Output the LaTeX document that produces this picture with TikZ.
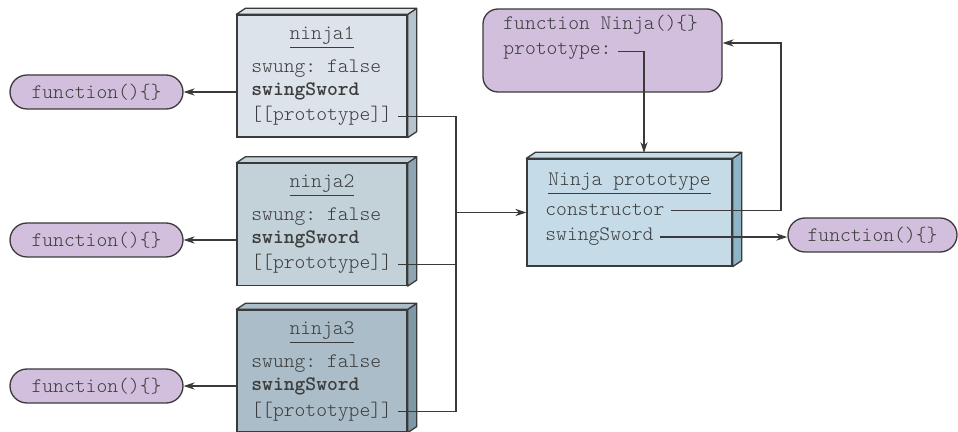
\documentclass[tikz,border=0pt]{standalone}
\usepackage{fontspec}
\setmonofont{lmmonolt10-regular.otf}[BoldFont=lmmonolt10-bold.otf]
\usepackage{tikz}
\usetikzlibrary{calc, positioning, arrows.meta}
\usepackage{xcolor}
\definecolor{edge}{HTML}{3A3A3A}
\definecolor{ink}{HTML}{3C3C3C}
\definecolor{objA}{HTML}{DCE3EA}
\definecolor{objAside}{HTML}{B5C4CF}
\definecolor{objB}{HTML}{C3D1D9}
\definecolor{objBside}{HTML}{8FA6B2}
\definecolor{objC}{HTML}{AABDC8}
\definecolor{objCside}{HTML}{7F98A6}
\definecolor{protoA}{HTML}{C5DCE8}
\definecolor{protoAside}{HTML}{8CB5C8}
\definecolor{fnfill}{HTML}{D2BFDD}
\newcommand\rowfont{\ttfamily\fontsize{10.3}{12}\selectfont}

\begin{document}
\begin{tikzpicture}[x=0.5pt, y=-0.5pt,
  obj/.style={draw=edge, line width=0.65pt, minimum width=85pt,
              minimum height=61pt, inner sep=0pt},
  face/.style={draw=edge, line width=0.65pt, line join=round},
  row/.style={anchor=base west, inner sep=3pt, font=\rowfont, text=ink},
  title/.style={anchor=base, inner sep=3pt, font=\rowfont, text=ink},
  fn/.style={draw=edge, line width=0.65pt, fill=fnfill, rounded corners=8.5pt,
             minimum width=86.5pt, minimum height=17pt, font=\rowfont, text=ink},
  link/.style={draw=edge, line width=0.65pt},
  >={Stealth[length=5.5pt, width=3.6pt]}
]
  \useasboundingbox (0,0) rectangle (958,432);

  % the three ninja objects
  \node[obj, fill=objA] (n1) at (322,76) {};
  \node[obj, fill=objB] (n2) at (322,224.5) {};
  \node[obj, fill=objC] (n3) at (322,371) {};
  % the shared prototype and the constructor
  \node[obj, fill=protoA, minimum width=102.5pt, minimum height=53.5pt] (proto) at (629.5,212.5) {};
  \node[fn, minimum width=119.5pt, minimum height=41.5pt, rounded corners=7.5pt] (ctorfn) at (602.5,50.5) {};

  \foreach \b/\f/\s in {n1/objA/objAside, n2/objB/objBside, n3/objC/objCside, proto/protoA/protoAside} {
    \filldraw[face, fill=\s] (\b.north east) -- ++(9,-6) -- ($(\b.south east)+(9,-6)$) -- (\b.south east) -- cycle;
    \filldraw[face, fill=\f] (\b.north west) -- ++(9,-6) -- ($(\b.north east)+(9,-6)$) -- (\b.north east) -- cycle;
  }

  \node[title] (n1t) at (322,40) {\underline{ninja1}};
  \node[row] (n1s) at (245,73) {swung: false};
  \node[row] (n1w) at (245,96) {\textbf{swingSword}};
  \node[row] (n1p) at (245,121) {[[prototype]]};

  \node[title] (n2t) at (322,188) {\underline{ninja2}};
  \node[row] (n2s) at (245,221) {swung: false};
  \node[row] (n2w) at (245,244) {\textbf{swingSword}};
  \node[row] (n2p) at (245,269) {[[prototype]]};

  \node[title] (n3t) at (322,335) {\underline{ninja3}};
  \node[row] (n3s) at (245,368) {swung: false};
  \node[row] (n3w) at (245,391) {\textbf{swingSword}};
  \node[row] (n3p) at (245,416) {[[prototype]]};

  \node[title] (pt) at (629.5,186) {\underline{Ninja prototype}};
  \node[row] (ctor) at (539,216) {constructor};
  \node[row] (pswing) at (539,241) {swingSword};

  \node[row] (fnname) at (497,30) {function Ninja()\{\}};
  \node[row] (fnproto) at (497,55) {prototype:};

  % function values
  \node[fn] (f1) at (96.5,92) {function()\{\}};
  \node[fn] (f2) at (96.5,240) {function()\{\}};
  \node[fn] (f3) at (96.5,386) {function()\{\}};
  \node[fn, minimum width=84.5pt] (f4) at (872.5,235) {function()\{\}};

  \draw[link, ->] (f1.east -| n1.west) -- (f1.east);
  \draw[link, ->] (f2.east -| n2.west) -- (f2.east);
  \draw[link, ->] (f3.east -| n3.west) -- (f3.east);

  \coordinate (jx) at (456,0);
  \coordinate (join) at (proto.west -| jx);
  \draw[link] (n1p.east) -| (join) |- (n3p.east);
  \draw[link] (n2p.east) -| (join);
  \draw[link, ->] (join) -- (proto.west);

  \coordinate (cx) at (781,0);
  \draw[link, ->] (ctor.east) -- (ctor.east -| cx) |- ([yshift=3.75pt]ctorfn.east);
  \draw[link, ->] (pswing.east) -- (pswing.east -| f4.west);
  \coordinate (pin) at (644,153);
  \draw[link, ->] (fnproto.east) -| (pin);
\end{tikzpicture}
\end{document}
